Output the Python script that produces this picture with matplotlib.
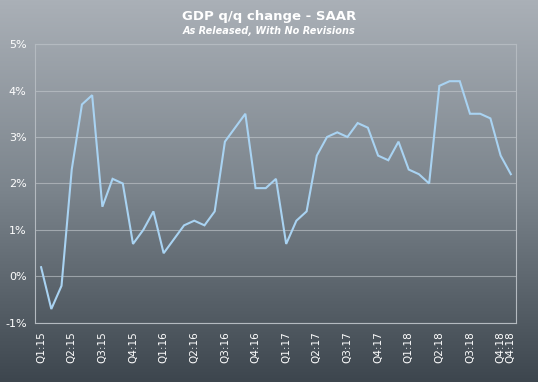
import numpy as np
import matplotlib
matplotlib.use("Agg")
import matplotlib.pyplot as plt
from matplotlib.colors import LinearSegmentedColormap

# GDP q/q SAAR, each release as published (advance, 2nd, 3rd)
gdp = [0.2, -0.7, -0.2, 2.3, 3.7, 3.9, 1.5, 2.1, 2.0, 0.7, 1.0, 1.4,
       0.5, 0.8, 1.1, 1.2, 1.1, 1.4, 2.9, 3.2, 3.5, 1.9, 1.9, 2.1,
       0.7, 1.2, 1.4, 2.6, 3.0, 3.1, 3.0, 3.3, 3.2, 2.6, 2.5, 2.9,
       2.3, 2.2, 2.0, 4.1, 4.2, 4.2, 3.5, 3.5, 3.4, 2.6, 2.2]
quarters = ["Q1:15", "Q2:15", "Q3:15", "Q4:15", "Q1:16", "Q2:16", "Q3:16", "Q4:16",
            "Q1:17", "Q2:17", "Q3:17", "Q4:17", "Q1:18", "Q2:18", "Q3:18", "Q4:18"]
last_label = "Q4:18"
yticks = [-1, 0, 1, 2, 3, 4, 5]

fig = plt.figure(figsize=(5.38, 3.82), dpi=100)

# background gradient
bg = fig.add_axes([0, 0, 1, 1], zorder=-10)
cmap = LinearSegmentedColormap.from_list("bg", ["#aab0b7", "#7b848c", "#3d464e"])
bg.imshow(np.linspace(0, 1, 256).reshape(-1, 1), aspect="auto", cmap=cmap,
          extent=[0, 1, 0, 1])
bg.axis("off")

ax = fig.add_axes([0.065, 0.1545, 0.894, 0.7303])
ax.patch.set_alpha(0)

x = np.arange(len(gdp))
ax.plot(x, gdp, color="#a9d3f2", lw=1.5, solid_joinstyle="miter")

ax.set_xlim(-0.6, len(gdp) - 0.5)
ax.set_ylim(-1, 5)
ax.set_yticks(yticks)
ax.set_yticklabels([f"{v}%" for v in yticks])
ax.grid(axis="y", color="#c4c9ce", lw=0.8, alpha=0.6)
ax.set_axisbelow(True)

tick_pos = list(range(0, len(gdp), 3)) + [len(gdp) - 1]
ax.set_xticks(tick_pos)
ax.set_xticklabels(quarters + [last_label], rotation=90, va="top")

for s in ax.spines.values():
    s.set_color("#b4bac0")
    s.set_linewidth(0.8)
ax.tick_params(length=0, colors="white", labelsize=7.5, pad=6)
ax.tick_params(axis="y", labelsize=8, pad=6)

fig.text(0.5, 0.957, "GDP q/q change - SAAR", ha="center", va="center",
         color="white", fontsize=9.5, fontweight="bold")
fig.text(0.5, 0.918, "As Released, With No Revisions", ha="center", va="center",
         color="white", fontsize=7, fontweight="bold", style="italic")

fig.savefig("out.png", dpi=100)
